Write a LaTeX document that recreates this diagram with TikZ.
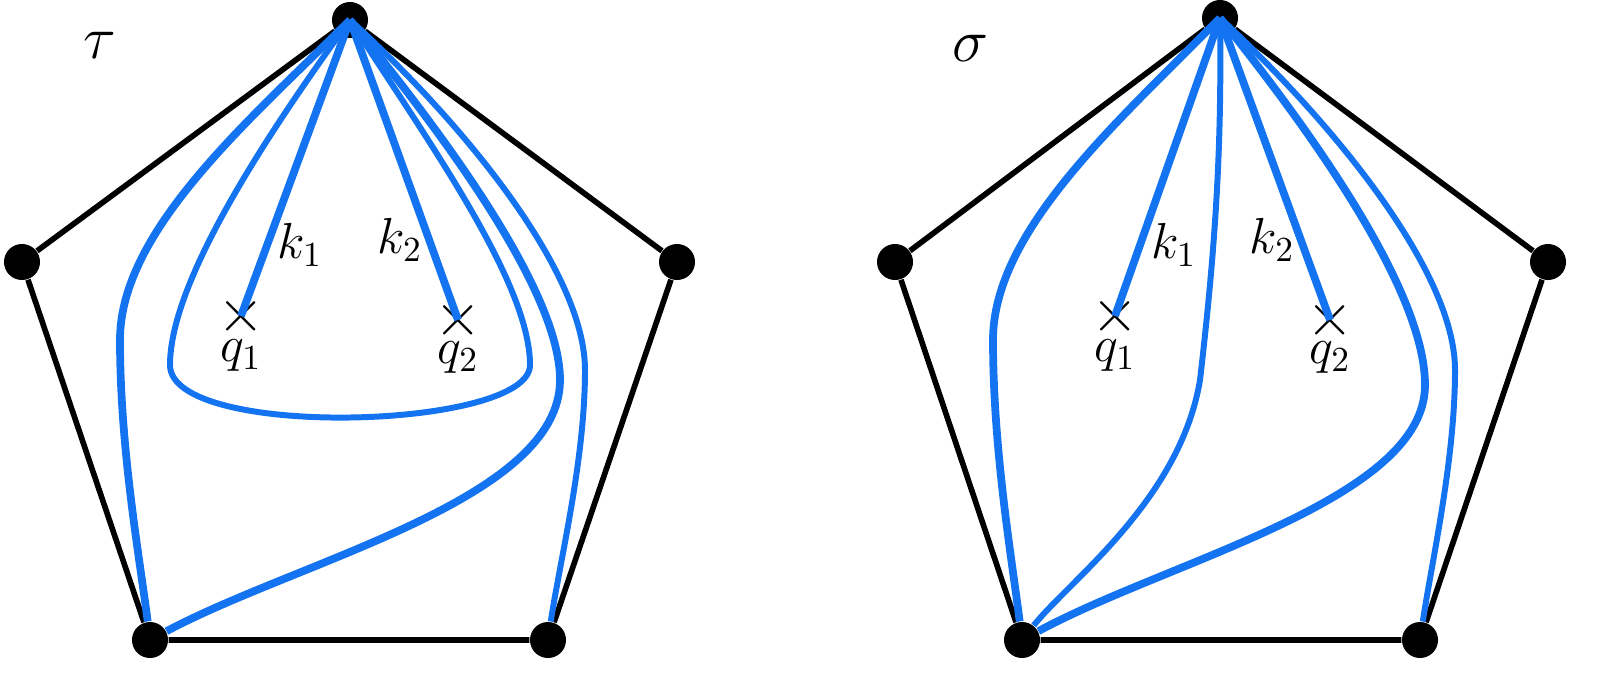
\documentclass[tikz,border=0pt]{standalone}
\usetikzlibrary{positioning}
\definecolor{arcblue}{RGB}{20,115,240}
\begin{document}
\begin{tikzpicture}[x=0.01cm, y=-0.01cm,
  vert/.style = {circle, fill=black, minimum size=0.36cm, inner sep=0pt},
  edge/.style = {line width=1.6pt},
  arc/.style = {arcblue, line width=2.2pt},
  thinarc/.style = {arcblue, line width=1.7pt},
  puncture/.style = {inner sep=0pt, font=\LARGE},
  lab/.style = {font=\Large}]
\useasboundingbox (0,0) rectangle (1607,679);
% left pentagon (tau)
\node[vert] (t) at (350,20) {};
\node[vert] (l) at (22,262) {};
\node[vert] (r) at (677,262) {};
\node[vert] (bl) at (150,640) {};
\node[vert] (br) at (548,640) {};
\draw[edge] (t) -- (l) -- (bl) -- (br) -- (r) -- (t);
\node[puncture] (q1) at (241,316) {$\times$};
\node[puncture] (q2) at (458,320) {$\times$};
\node[lab] at (241,356) {$q_1$};
\node[lab] at (458,358) {$q_2$};
\node[lab] at (300,245) {$k_1$};
\node[lab] at (400,240) {$k_2$};
\node at (100,45) {\LARGE$\tau$};
\draw[arc] (t.center) .. controls (250,120) and (120,230) .. (120,340) .. controls (120,450) and (140,560) .. (bl);
\draw[thinarc] (t.center) .. controls (270,130) and (170,280) .. (170,365) .. controls (170,440) and (530,430) .. (530,365) .. controls (530,280) and (420,130) .. (t.center);
\draw[arc] (t.center) -- (q1.center);
\draw[arc] (t.center) -- (q2.center);
\draw[arc] (t.center) .. controls (440,130) and (560,290) .. (560,380) .. controls (560,500) and (300,560) .. (bl);
\draw[thinarc] (t.center) .. controls (460,120) and (585,270) .. (585,370) .. controls (585,460) and (560,560) .. (br);
% right pentagon (sigma)
\node[vert] (t2) at (1220,18) {};
\node[vert] (l2) at (895,262) {};
\node[vert] (r2) at (1548,262) {};
\node[vert] (bl2) at (1022,640) {};
\node[vert] (br2) at (1420,640) {};
\draw[edge] (t2) -- (l2) -- (bl2) -- (br2) -- (r2) -- (t2);
\node[puncture] (p1) at (1115,316) {$\times$};
\node[puncture] (p2) at (1330,320) {$\times$};
\node[lab] at (1115,356) {$q_1$};
\node[lab] at (1330,358) {$q_2$};
\node[lab] at (1174,245) {$k_1$};
\node[lab] at (1272,240) {$k_2$};
\node at (970,48) {\LARGE$\sigma$};
\draw[arc] (t2.center) .. controls (1120,120) and (993,230) .. (993,340) .. controls (993,450) and (1012,560) .. (bl2);
\draw[thinarc] (t2.center) .. controls (1222,150) and (1215,250) .. (1200,380) .. controls (1180,500) and (1070,580) .. (bl2);
\draw[arc] (t2.center) -- (p1.center);
\draw[arc] (t2.center) -- (p2.center);
\draw[arc] (t2.center) .. controls (1310,130) and (1425,290) .. (1425,385) .. controls (1425,500) and (1170,560) .. (bl2);
\draw[thinarc] (t2.center) .. controls (1330,120) and (1455,270) .. (1455,370) .. controls (1455,460) and (1432,560) .. (br2);
\end{tikzpicture}
\end{document}
